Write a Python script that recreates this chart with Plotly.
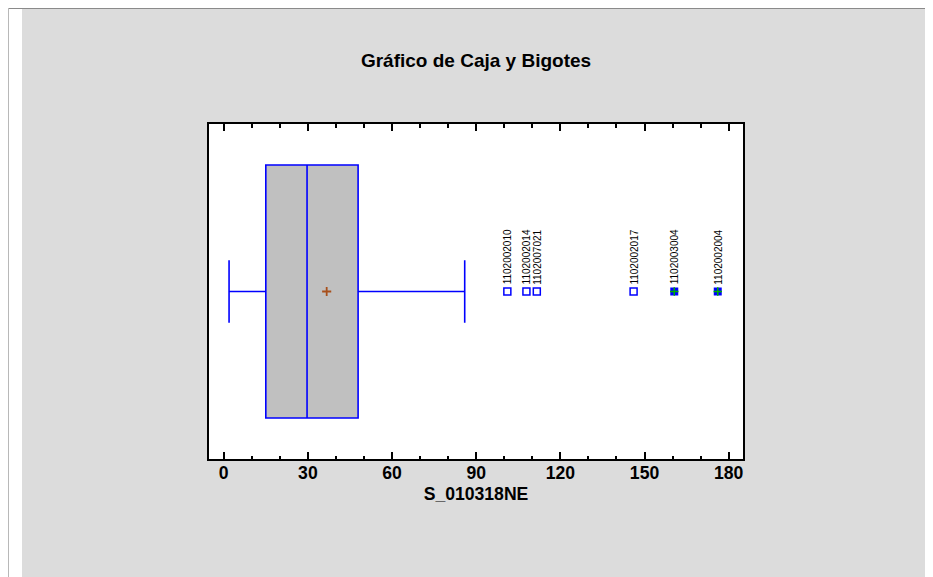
import plotly.graph_objects as go

# ---- data ----
variable_name = "S_010318NE"
box_q1 = [15.0]
box_median = [29.7]
box_q3 = [47.9]
whisker_low = [1.9]
whisker_high = [85.9]
mean_value = [36.7]

outside_values = [101.1, 107.9, 111.6, 146.1]
outside_labels = ["1102002010", "1102002014", "1102007021", "1102002017"]
far_values = [160.6, 176.1]
far_labels = ["1102003004", "1102002004"]

tick_values = [0, 30, 60, 90, 120, 150, 180]

# ---- layout geometry (figure pixels; page has an 8px body margin) ----
W, H = 933, 577
L, R, T, B = 201, 198, 116, 126
PW, PH = W - L - R, H - T - B


def px(x):
    return (x - L) / PW


def py(y):
    return 1 - (y - T) / PH


FONT = "Arial, 'Liberation Sans', sans-serif"

fig = go.Figure()

fig.add_trace(go.Box(
    y=[0], q1=box_q1, median=box_median, q3=box_q3,
    lowerfence=whisker_low, upperfence=whisker_high,
    orientation="h", width=0.755, whiskerwidth=0.247,
    fillcolor="#c0c0c0", line=dict(color="#0000ff", width=1.6),
    boxpoints=False, hoverinfo="skip", showlegend=False,
))

fig.add_trace(go.Scatter(
    x=mean_value, y=[0], mode="markers", showlegend=False,
    marker=dict(symbol="cross-thin", size=6.5, line=dict(color="#a8501c", width=1.8)),
))

fig.add_trace(go.Scatter(
    x=outside_values, y=[0] * len(outside_values), mode="markers", showlegend=False,
    marker=dict(symbol="square-open", size=7, color="#0000ff", line=dict(width=1.5)),
))

fig.add_trace(go.Scatter(
    x=far_values, y=[0] * len(far_values), mode="markers", showlegend=False,
    marker=dict(symbol="square", size=8, color="#0000ff", line=dict(width=0)),
))
fig.add_trace(go.Scatter(
    x=far_values, y=[0] * len(far_values), mode="markers", showlegend=False,
    marker=dict(symbol="cross-thin", size=6, line=dict(color="#00b000", width=1.5)),
))

for v, lab in zip(outside_values + far_values, outside_labels + far_labels):
    fig.add_annotation(
        x=v, y=0, xref="x", yref="y", text=lab, showarrow=False,
        textangle=-90, yanchor="bottom", xanchor="center", yshift=5,
        font=dict(family=FONT, size=10, color="black"),
    )

shapes = [
    # white page margin strip on the left
    dict(type="rect", xref="paper", yref="paper", x0=px(0), x1=px(14), y0=py(H), y1=py(0),
         fillcolor="white", line=dict(width=0), layer="below"),
    # frame lines
    dict(type="line", xref="paper", yref="paper", x0=px(0), x1=px(W), y0=py(0.5), y1=py(0.5),
         line=dict(color="#8a8a8a", width=1.2)),
    dict(type="line", xref="paper", yref="paper", x0=px(0.5), x1=px(0.5), y0=py(0), y1=py(H),
         line=dict(color="#b8b8b8", width=1)),
]

fig.update_layout(
    width=W, height=H,
    margin=dict(l=L, r=R, t=T, b=B, pad=0),
    paper_bgcolor="#dcdcdc", plot_bgcolor="white",
    shapes=shapes,
    title=dict(text="<b>Gráfico de Caja y Bigotes</b>", x=0.5, xref="paper",
               xanchor="center", y=1 - 52 / H, yanchor="middle",
               font=dict(family=FONT, size=19, color="black")),
    xaxis=dict(
        range=[-5.25, 185.1], tickvals=tick_values, ticks="inside", ticklen=7,
        tickwidth=1.5, tickcolor="black", ticklabelstandoff=-3,
        minor=dict(dtick=10, tick0=0, ticks="inside", ticklen=3.5, tickwidth=1.5, tickcolor="black"),
        showline=True, linewidth=2, linecolor="black", mirror="allticks",
        showgrid=False, zeroline=False,
        tickfont=dict(family=FONT, size=17.6, color="black", weight="bold"),
        title=dict(text=variable_name, standoff=6,
                   font=dict(family=FONT, size=17.6, color="black", weight="bold")),
    ),
    yaxis=dict(
        range=[-0.5, 0.5], showticklabels=False, ticks="",
        showline=True, linewidth=2, linecolor="black", mirror=True,
        showgrid=False, zeroline=False,
    ),
)

fig.write_html("out.html")
